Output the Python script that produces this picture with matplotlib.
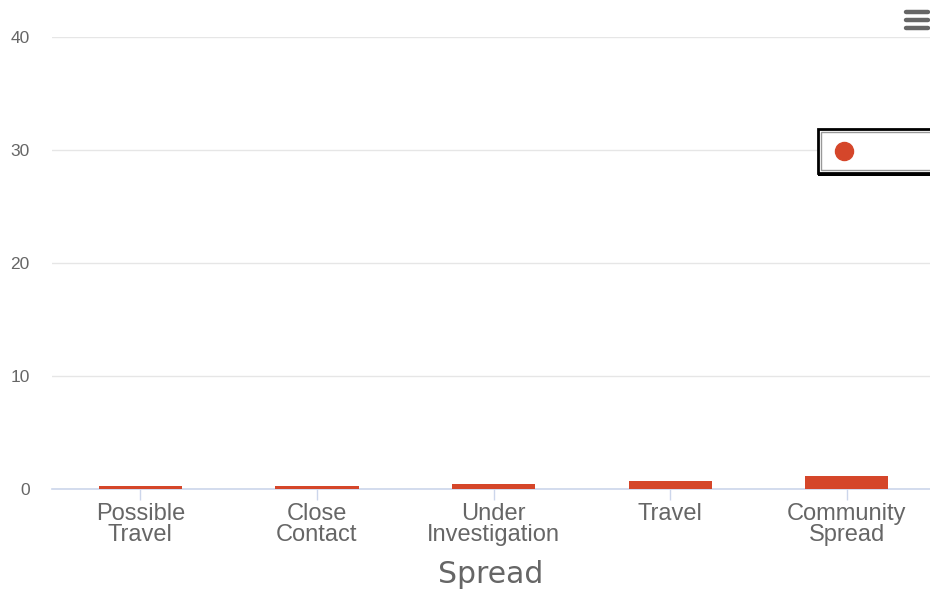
import matplotlib
matplotlib.use('Agg')
import matplotlib.pyplot as plt
from matplotlib.patches import Rectangle
from matplotlib.lines import Line2D

# Chart data
categories = ['Possible\nTravel', 'Close\nContact', 'Under\nInvestigation', 'Travel', 'Community\nSpread']
values = [0.25, 0.25, 0.45, 0.7, 1.15]
y_ticks = [0, 10, 20, 30, 40]

BAR_COLOR = '#d5462a'
TEXT_COLOR = '#666666'
GRID_COLOR = '#e6e6e6'
AXIS_COLOR = '#ccd6eb'

plt.rcParams['font.family'] = ['Liberation Sans', 'DejaVu Sans']

fig = plt.figure(figsize=(9.3, 5.94), dpi=100)
# Axes placed in pixel terms: left 52px, right edge of figure, y=0 at 489px, y=40 at 37px
ax = fig.add_axes([52 / 930, 1 - 489 / 594, 1 - 52 / 930, (489 - 37) / 594])

x = list(range(len(categories)))
ax.bar(x, values, width=0.47, color=BAR_COLOR, zorder=3)

ax.set_ylim(0, 40)
ax.set_xlim(-0.5, 4.47)
ax.set_yticks(y_ticks)
ax.set_xticks(x)
ax.set_xticklabels(categories, fontsize=17, color=TEXT_COLOR, linespacing=0.93)
ax.set_yticklabels([str(v) for v in y_ticks], fontsize=12.5, color=TEXT_COLOR)

# Grid lines and spines
ax.yaxis.grid(True, color=GRID_COLOR, linewidth=1, zorder=0)
for side in ['top', 'right', 'left']:
    ax.spines[side].set_visible(False)
ax.spines['bottom'].set_color(AXIS_COLOR)
ax.spines['bottom'].set_linewidth(1.2)
ax.spines['bottom'].set_zorder(2)

ax.tick_params(axis='y', length=0, pad=16)
ax.tick_params(axis='x', length=8, color=AXIS_COLOR, width=1, pad=2)

ax.set_xlabel('Spread', fontsize=21.5, color=TEXT_COLOR, family=['DejaVu Sans'], labelpad=10)

# Legend box with shadow
lx0, ly0 = 818 / 930, 1 - 176 / 594
lw, lh = 0.2, 47 / 594
fig.patches.append(Rectangle((lx0, ly0), lw, 5 / 594, transform=fig.transFigure,
                             facecolor='black', edgecolor='none', zorder=5))
fig.patches.append(Rectangle((lx0, ly0 + 3 / 594), lw, lh - 3 / 594, transform=fig.transFigure,
                             facecolor='white', edgecolor='black', linewidth=2, zorder=6))
fig.patches.append(Rectangle((lx0 + 3 / 930, ly0 + 6 / 594), lw, lh - 9 / 594, transform=fig.transFigure,
                             facecolor='none', edgecolor='#999999', linewidth=1, zorder=6))
fig.add_artist(Line2D([844 / 930], [1 - 151 / 594], marker='o', markersize=13,
                      color=BAR_COLOR, transform=fig.transFigure, zorder=7))

# Menu icon (hamburger)
for yy in [12, 20, 28]:
    fig.add_artist(Line2D([906 / 930, 928 / 930], [1 - yy / 594, 1 - yy / 594],
                          color='#666666', linewidth=3.2, solid_capstyle='round',
                          transform=fig.transFigure))

fig.savefig('out.png', dpi=100)
